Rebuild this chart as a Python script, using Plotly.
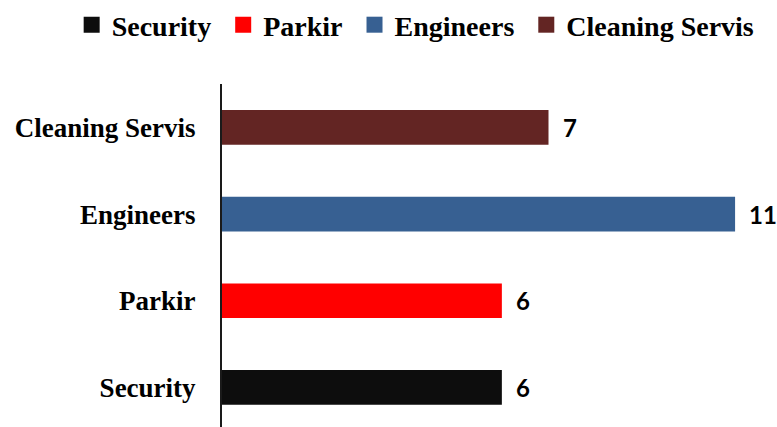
import plotly.graph_objects as go

categories = ["Security", "Parkir", "Engineers", "Cleaning Servis"]
values = [6, 6, 11, 7]
colors = ["#0d0d0d", "#ff0000", "#376092", "#632523"]

label_font = "Liberation Serif"
value_font = "Lato"
legend_pad = "\u00a0"

fig = go.Figure()
for cat, val, col in zip(categories, values, colors):
    # the bar itself
    fig.add_trace(go.Bar(
        name=cat,
        y=[cat],
        x=[val],
        orientation="h",
        marker=dict(color=col, line=dict(width=0)),
        width=0.4,
        showlegend=False,
        legendgroup=cat,
    ))
    # legend entry with a larger square swatch
    fig.add_trace(go.Scatter(
        name=f"<b>{cat}</b>{legend_pad}",
        x=[None], y=[None],
        mode="markers",
        marker=dict(symbol="square", size=16, color=col),
        legendgroup=cat,
        showlegend=True,
    ))
    fig.add_annotation(
        x=val, y=cat, text=f"<b>{val}</b>",
        xanchor="left", yanchor="middle", xshift=12, showarrow=False,
        font=dict(family=value_font, size=24, color="#000000"),
    )

fig.update_layout(
    width=777, height=427,
    margin=dict(l=222, r=20, t=84, b=0),
    paper_bgcolor="white", plot_bgcolor="white",
    font=dict(family=label_font, color="#000000"),
    barmode="overlay",
    showlegend=True,
    legend=dict(
        orientation="h", x=-0.281, xanchor="left",
        y=1.245, yanchor="top",
        font=dict(family=label_font, size=28, color="#000000"),
        itemwidth=30, traceorder="normal",
    ),
    xaxis=dict(range=[0, 11.47], visible=False, fixedrange=True),
    yaxis=dict(
        categoryorder="array", categoryarray=categories,
        range=[-0.456, 3.5],
        showline=True, linecolor="#1a1a1a", linewidth=2,
        ticks="", ticklabelstandoff=19, showgrid=False, zeroline=False,
        tickfont=dict(family=label_font, size=27, color="#000000", weight="bold"),
    ),
)

fig.write_html("out.html")
